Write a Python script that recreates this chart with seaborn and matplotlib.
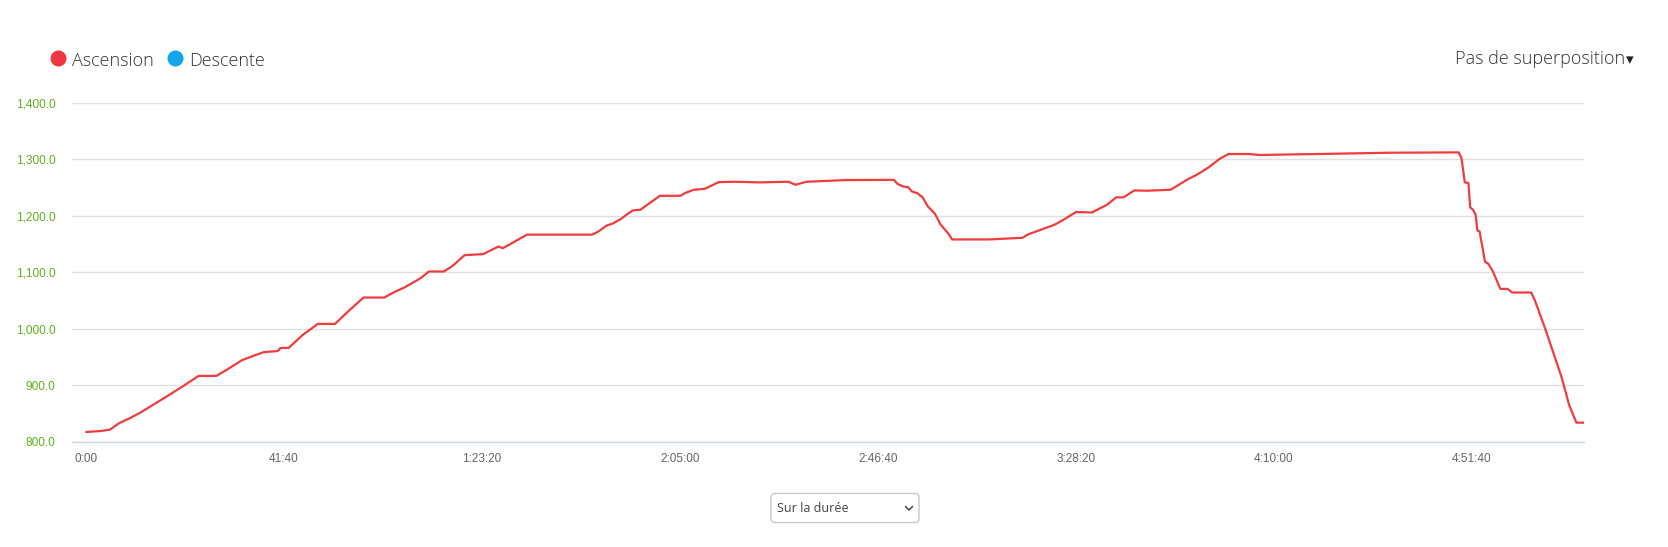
import numpy as np
import pandas as pd
import matplotlib
matplotlib.use("Agg")
import matplotlib.pyplot as plt
import seaborn as sns
from matplotlib.patches import Circle, FancyBboxPatch
from matplotlib.ticker import FixedLocator, FuncFormatter

# ---- data (time in seconds, elevation in metres) ----
time_s = [0, 188, 301, 413, 549, 684, 842, 1068, 1226, 1420, 1645, 1790, 1970, 2105,
          2241, 2421, 2457, 2557, 2737, 2927, 3143, 3324, 3504, 3766, 3888, 4023,
          4226, 4330, 4519, 4632, 4781, 5015, 5209, 5264, 5354, 5570, 6392, 6459,
          6572, 6663, 6753, 6843, 6910, 7001, 7249, 7510, 7565, 7677, 7813, 7993,
          8196, 8512, 8873, 8963, 9098, 9595, 10204, 10249, 10317, 10385, 10430,
          10497, 10565, 10633, 10723, 10791, 10904, 10939, 11400, 11828, 11897,
          12234, 12347, 12505, 12707, 12899, 13013, 13105, 13242, 13402, 13701,
          13906, 14043, 14180, 14318, 14432, 14685, 14821, 15554, 16470, 17339,
          17375, 17417, 17463, 17485, 17522, 17554, 17576, 17604, 17646, 17672,
          17714, 17773, 17866, 17957, 18016, 18255, 18300, 18438, 18552, 18644,
          18735, 18826, 18923]
elevation_m = [817.7, 819.5, 821.9, 833, 842, 852, 865.5, 885, 899, 917, 917, 929, 945,
               952, 959, 961, 966.5, 966.5, 989.6, 1009, 1009, 1033, 1055.7, 1055.7,
               1065, 1073.7, 1090, 1101.8, 1101.8, 1112, 1130.7, 1132.5, 1146, 1143,
               1150, 1167, 1167, 1171.5, 1182.7, 1187.4, 1194.5, 1204, 1210, 1211,
               1235.8, 1235.8, 1240.6, 1246.5, 1248, 1260, 1260.6, 1259.5, 1260.6,
               1255.3, 1260.6, 1263.6, 1264, 1257, 1252.4, 1251, 1243.5, 1240.6,
               1233.5, 1217, 1204, 1185.6, 1166.7, 1158.5, 1158.5, 1161.4, 1167.3,
               1184.5, 1193.3, 1207, 1206.3, 1220, 1233, 1233, 1245.3, 1244.7, 1246.5,
               1264, 1274, 1286, 1301, 1309.7, 1309.7, 1308, 1309.7, 1312, 1312.6,
               1302.6, 1259.5, 1258.3, 1215.2, 1211, 1202, 1174.4, 1172.6, 1140, 1119,
               1115.4, 1101.8, 1071, 1071, 1064.6, 1064.6, 1051.6, 998.4, 951.2, 912.8,
               865.5, 834.3, 834.3]
x_ticks = [0, 2500, 5000, 7500, 10000, 12500, 15000, 17500]
y_ticks = [800, 900, 1000, 1100, 1200, 1300, 1400]
legend_labels = ["Ascension", "Descente"]
legend_colors = ["#f0383f", "#11a6eb"]
overlay_label = "Pas de superposition"
select_label = "Sur la durée"

df = pd.DataFrame({"temps": time_s, "altitude": elevation_m})

sns.set_style("white")
plt.rcParams["font.family"] = ["Open Sans", "DejaVu Sans"]

W, H = 1668, 547
fig = plt.figure(figsize=(W / 100, H / 100), dpi=100)
ax = fig.add_axes([72 / W, 1 - 442 / H, (1584 - 72) / W, (442 - 103) / H])

sns.lineplot(data=df, x="temps", y="altitude", ax=ax, color="#f03c3c",
             linewidth=1.6, legend=False)

ax.set_xlim(-179, 18923)
ax.set_ylim(800, 1400)
ax.set_xlabel("")
ax.set_ylabel("")

def fmt_time(v, pos=None):
    v = int(round(v))
    h, rem = divmod(v, 3600)
    m, s = divmod(rem, 60)
    if h == 0:
        return f"{m}:{s:02d}"
    return f"{h}:{m:02d}:{s:02d}"

ax.xaxis.set_major_locator(FixedLocator(x_ticks))
ax.xaxis.set_major_formatter(FuncFormatter(fmt_time))
ax.yaxis.set_major_locator(FixedLocator(y_ticks))
ax.yaxis.set_major_formatter(FuncFormatter(lambda v, p: f"{v:,.1f}"))

ax.grid(axis="y", color="#e0e0e0", linewidth=1.0)
ax.grid(axis="x", visible=False)
for side in ["top", "right", "left"]:
    ax.spines[side].set_visible(False)
ax.spines["bottom"].set_color("#ccd6eb")
ax.spines["bottom"].set_linewidth(1.0)
ax.tick_params(axis="both", length=0)
ax.tick_params(axis="y", pad=12, labelsize=8.6, labelcolor="#5cb21c")
ax.tick_params(axis="x", pad=8, labelsize=8.5, labelcolor="#666666")
for lbl in ax.get_yticklabels():
    lbl.set_family(["Liberation Sans", "DejaVu Sans"])
for lbl in ax.get_xticklabels():
    lbl.set_family(["Liberation Sans Narrow", "Liberation Sans", "DejaVu Sans"])

# ---- overlay in pixel coordinates for legend / controls ----
ov = fig.add_axes([0, 0, 1, 1], zorder=5)
ov.set_xlim(0, W)
ov.set_ylim(H, 0)
ov.axis("off")
ov.patch.set_alpha(0)

cx = [58.5, 175.5]
tx = [72, 189]
for c, t, lab, col in zip(cx, tx, legend_labels, legend_colors):
    ov.add_patch(Circle((c, 58.5), 8, color=col, lw=0))
    ov.text(t, 60.5, lab, fontsize=13, color="#333333", va="center", ha="left",
            fontweight="light")

ov.text(1455, 59.5, overlay_label, fontsize=13, color="#333333", va="center",
        ha="left", fontweight="light")
ov.text(1626, 60, "▾", fontsize=11, color="#222222", va="center", ha="left",
        family=["DejaVu Sans"])

box = FancyBboxPatch((771, 493.5), 148, 29, boxstyle="round,pad=0,rounding_size=4",
                     fc="white", ec="#c8c8c8", lw=1.0)
ov.add_patch(box)
ov.text(777, 508.5, select_label, fontsize=9, color="#444444", va="center", ha="left")
ov.plot([905.5, 909, 912.5], [506.5, 510, 506.5], color="#555555", lw=1.2)

fig.savefig("out.png", dpi=100, facecolor="white")
